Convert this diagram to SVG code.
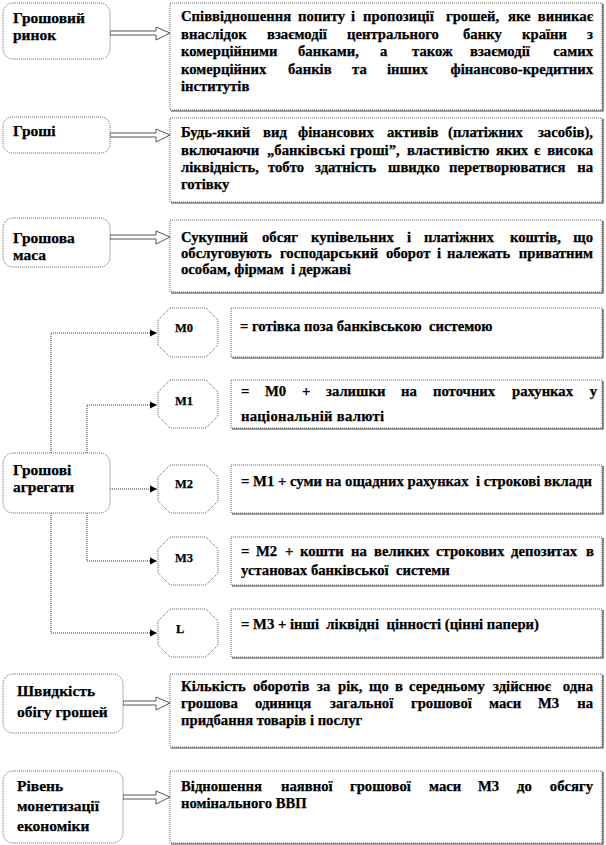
<svg xmlns="http://www.w3.org/2000/svg" width="606" height="845" viewBox="0 0 606 845" font-family="'Liberation Serif','Times New Roman','DejaVu Serif',serif">
<style>
text{font-family:"Liberation Serif","Times New Roman","DejaVu Serif",serif;font-weight:bold;font-size:14.7px;fill:#000;stroke:#000;stroke-width:0.25}
.lbl{font-size:15.5px}
.ol{font-size:12.5px}
.box{fill:#fff;stroke:#666;stroke-width:1;stroke-dasharray:1 1}
.sh{fill:none;stroke:#444;stroke-width:1.2}
.harr{fill:#fff;stroke:#555;stroke-width:1}
.con{fill:none;stroke:#333;stroke-width:1;stroke-dasharray:1 1}
.e{text-anchor:end}
</style>
<defs>
<marker id="ah" markerWidth="8" markerHeight="8" refX="7" refY="4" orient="auto" markerUnits="userSpaceOnUse">
<path d="M0,0.5 L7,4 L0,7.5 Z" fill="#000"/>
</marker>
</defs>
<rect width="606" height="845" fill="#fff"/>

<g id="connectors">
<path class="harr" d="M110,31 L156,31 L156,27 L170,33 L156,40 L156,35 L110,35 Z"/>
<path class="harr" d="M110,133 L156,133 L156,129 L170,135 L156,142 L156,137 L110,137 Z"/>
<path class="harr" d="M110,235 L156,235 L156,231 L170,237 L156,244 L156,239 L110,239 Z"/>
<path class="harr" d="M123,701 L156,701 L156,697 L170,703 L156,710 L156,705 L123,705 Z"/>
<path class="harr" d="M123,795 L156,795 L156,791 L170,797 L156,804 L156,799 L123,799 Z"/>
<path class="con" d="M51,453 L51,333 L157,333" marker-end="url(#ah)"/>
<path class="con" d="M87,453 L87,405 L157,405" marker-end="url(#ah)"/>
<path class="con" d="M110,489 L157,489" marker-end="url(#ah)"/>
<path class="con" d="M87,513 L87,561 L157,561" marker-end="url(#ah)"/>
<path class="con" d="M51,513 L51,633 L157,633" marker-end="url(#ah)"/>
</g>

<g id="n-rynok">
<rect class="box" x="3" y="3" width="107" height="56" rx="10"/>
<text class="lbl" x="13" y="23">Грошовий</text>
<text class="lbl" x="13" y="40">ринок</text>
</g>
<g id="d-rynok">
<rect class="box" x="170" y="3" width="432" height="107"/>
<path class="sh" d="M603,4 L603,111 L171,111"/>
<text y="21"><tspan x="181">Співвідношення</tspan><tspan x="298">попиту</tspan><tspan x="351">і</tspan><tspan x="363">пропозиції</tspan><tspan x="446">грошей,</tspan><tspan x="508">яке</tspan></text>
<text class="e" x="593" y="21">виникає</text>
<text y="38.5"><tspan x="181">внаслідок</tspan><tspan x="267">взаємодії</tspan><tspan x="347">центрального</tspan><tspan x="463">банку</tspan><tspan x="522">країни</tspan></text>
<text class="e" x="593" y="38.5">з</text>
<text y="56"><tspan x="181">комерційними</tspan><tspan x="298">банками,</tspan><tspan x="380">а</tspan><tspan x="412">також</tspan><tspan x="470">взаємодії</tspan></text>
<text class="e" x="593" y="56">самих</text>
<text y="74"><tspan x="181">комерційних</tspan><tspan x="288">банків</tspan><tspan x="352">та</tspan><tspan x="387">інших</tspan></text>
<text class="e" x="593" y="74">фінансово-кредитних</text>
<text x="181" y="91">інститутів</text>
</g>

<g id="n-groshi">
<rect class="box" x="3" y="117" width="107" height="36" rx="9"/>
<text class="lbl" x="13" y="136">Гроші</text>
</g>
<g id="d-groshi">
<rect class="box" x="170" y="118" width="432" height="84"/>
<path class="sh" d="M603,119 L603,203 L171,203"/>
<text y="137"><tspan x="181">Будь-який</tspan><tspan x="263">вид</tspan><tspan x="298">фінансових</tspan><tspan x="387">активів</tspan><tspan x="448">(платіжних</tspan></text>
<text class="e" x="593" y="137">засобів),</text>
<text y="155"><tspan x="181">включаючи</tspan><tspan x="267">„банківські</tspan><tspan x="350">гроші”,</tspan><tspan x="407">властивістю</tspan><tspan x="496">яких</tspan><tspan x="534">є</tspan></text>
<text class="e" x="593" y="155">висока</text>
<text y="172"><tspan x="181">ліквідність,</tspan><tspan x="268">тобто</tspan><tspan x="315">здатність</tspan><tspan x="388">швидко</tspan><tspan x="449">перетворюватися</tspan></text>
<text class="e" x="593" y="172">на</text>
<text x="181" y="189">готівку</text>
</g>

<g id="n-masa">
<rect class="box" x="3" y="218" width="107" height="49" rx="10"/>
<text class="lbl" x="13" y="243">Грошова</text>
<text class="lbl" x="13" y="260">маса</text>
</g>
<g id="d-masa">
<rect class="box" x="170" y="220" width="432" height="72"/>
<path class="sh" d="M603,221 L603,293 L171,293"/>
<text y="242"><tspan x="181">Сукупний</tspan><tspan x="262">обсяг</tspan><tspan x="311">купівельних</tspan><tspan x="407">і</tspan><tspan x="424">платіжних</tspan><tspan x="510">коштів,</tspan></text>
<text class="e" x="593" y="242">що</text>
<text y="258"><tspan x="181">обслуговують</tspan><tspan x="280">господарський</tspan><tspan x="386">оборот</tspan><tspan x="437">і</tspan><tspan x="447">належать</tspan></text>
<text class="e" x="593" y="258">приватним</text>
<text x="181" y="273.5" xml:space="preserve">особам, фірмам  і державі</text>
</g>

<g id="n-agregaty">
<rect class="box" x="3" y="453" width="107" height="60" rx="10"/>
<text class="lbl" x="13" y="475">Грошові</text>
<text class="lbl" x="13" y="492">агрегати</text>
</g>

<g id="oct-m0">
<polygon class="box" points="170,308 206,308 218,320 218,345 206,357 170,357 158,345 158,320"/>
<text class="ol" x="175" y="332">М0</text>
</g>
<g id="d-m0">
<rect class="box" x="231" y="308" width="371" height="49"/>
<path class="sh" d="M603,309 L603,358 L232,358"/>
<text x="240" y="331" xml:space="preserve">= готівка поза банківською  системою</text>
</g>

<g id="oct-m1">
<polygon class="box" points="170,380 206,380 218,392 218,416 206,428 170,428 158,416 158,392"/>
<text class="ol" x="175" y="405">М1</text>
</g>
<g id="d-m1">
<rect class="box" x="231" y="380" width="371" height="48"/>
<path class="sh" d="M603,381 L603,429 L232,429"/>
<text y="396"><tspan x="241">=</tspan><tspan x="265">М0</tspan><tspan x="302">+</tspan><tspan x="326">залишки</tspan><tspan x="401">на</tspan><tspan x="433">поточних</tspan><tspan x="512">рахунках</tspan></text>
<text class="e" x="597" y="396">у</text>
<text x="241" y="421" textLength="143" lengthAdjust="spacing">національній валюті</text>
</g>

<g id="oct-m2">
<polygon class="box" points="170,465 206,465 218,477 218,501 206,513 170,513 158,501 158,477"/>
<text class="ol" x="175" y="488">М2</text>
</g>
<g id="d-m2">
<rect class="box" x="231" y="465" width="371" height="48"/>
<path class="sh" d="M603,466 L603,514 L232,514"/>
<text x="241" y="486" xml:space="preserve">= М1 + суми на ощадних рахунках  і строкові вклади</text>
</g>

<g id="oct-m3">
<polygon class="box" points="170,537 206,537 218,549 218,573 206,585 170,585 158,573 158,549"/>
<text class="ol" x="175" y="562">М3</text>
</g>
<g id="d-m3">
<rect class="box" x="231" y="537" width="371" height="48"/>
<path class="sh" d="M603,538 L603,586 L232,586"/>
<text y="556"><tspan x="241">=</tspan><tspan x="256">М2</tspan><tspan x="285">+</tspan><tspan x="300">кошти</tspan><tspan x="351">на</tspan><tspan x="374">великих</tspan><tspan x="436">строкових</tspan><tspan x="511">депозитах</tspan></text>
<text class="e" x="594" y="556">в</text>
<text x="241" y="575" xml:space="preserve">установах банківської  системи</text>
</g>

<g id="oct-l">
<polygon class="box" points="170,609 206,609 218,621 218,645 206,657 170,657 158,645 158,621"/>
<text class="ol" x="176" y="633">L</text>
</g>
<g id="d-l">
<rect class="box" x="231" y="609" width="371" height="48"/>
<path class="sh" d="M603,610 L603,658 L232,658"/>
<text x="241" y="629" xml:space="preserve">= М3 + інші  ліквідні  цінності (цінні папери)</text>
</g>

<g id="n-shvydkist">
<rect class="box" x="3" y="674" width="120" height="59" rx="10"/>
<text class="lbl" x="17" y="696">Швидкість</text>
<text class="lbl" x="17" y="717">обігу грошей</text>
</g>
<g id="d-shvydkist">
<rect class="box" x="170" y="674" width="432" height="73"/>
<path class="sh" d="M603,675 L603,748 L171,748"/>
<text y="691"><tspan x="181">Кількість</tspan><tspan x="253">оборотів</tspan><tspan x="317">за</tspan><tspan x="338">рік,</tspan><tspan x="369">що</tspan><tspan x="395">в</tspan><tspan x="409">середньому</tspan><tspan x="493">здійснює</tspan></text>
<text class="e" x="593" y="691">одна</text>
<text y="708"><tspan x="181">грошова</tspan><tspan x="255">одиниця</tspan><tspan x="330">загальної</tspan><tspan x="411">грошової</tspan><tspan x="489">маси</tspan><tspan x="538">М3</tspan></text>
<text class="e" x="593" y="708">на</text>
<text x="181" y="725">придбання товарів і послуг</text>
</g>

<g id="n-riven">
<rect class="box" x="3" y="771" width="120" height="72" rx="10"/>
<text class="lbl" x="17" y="791">Рівень</text>
<text class="lbl" x="17" y="811">монетизації</text>
<text class="lbl" x="17" y="831">економіки</text>
</g>
<g id="d-riven">
<rect class="box" x="170" y="771" width="432" height="72"/>
<path class="sh" d="M603,772 L603,844 L171,844"/>
<text y="791"><tspan x="181">Відношення</tspan><tspan x="281">наявної</tspan><tspan x="350">грошової</tspan><tspan x="429">маси</tspan><tspan x="478">М3</tspan><tspan x="517">до</tspan></text>
<text class="e" x="593" y="791">обсягу</text>
<text x="181" y="808">номінального ВВП</text>
</g>
</svg>
